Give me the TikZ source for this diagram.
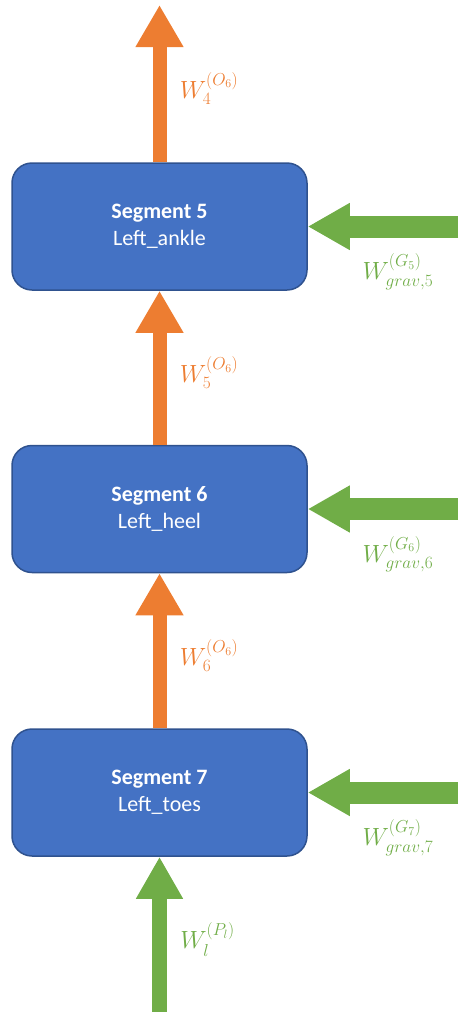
\documentclass[tikz,border=0pt]{standalone}
\usepackage{amsmath}
\usepackage{fontspec}
\setmainfont{Carlito}
\usepackage{tikz}
\usetikzlibrary{arrows.meta}

\definecolor{segblue}{HTML}{4472C4}
\definecolor{segborder}{HTML}{2F528F}
\definecolor{forceorange}{HTML}{ED7D31}
\definecolor{forcegreen}{HTML}{70AD47}

\begin{document}
\begin{tikzpicture}[x=1pt, y=-1pt,
		segment/.style={draw=segborder, line width=1.5pt, fill=segblue, rounded corners=20pt,
			minimum width=295pt, minimum height=127pt, text=white, align=center,
			font=\fontsize{22}{27}\selectfont},
		orangearrow/.style={draw=forceorange, line width=14pt, -{Triangle[length=42pt, width=45pt]}},
		greenarrow/.style={draw=forcegreen, line width=22pt, -{Triangle[length=42pt, width=44pt]}},
		orangelabel/.style={right, xshift=10pt, yshift=-5pt, text=forceorange, font=\fontsize{24}{28}\selectfont},
		greenlabel/.style={below=13pt, text=forcegreen, font=\fontsize{24}{28}\selectfont}]
		\useasboundingbox (0, 0) rectangle (458, 1012);

		% segments
		\node[segment] (s5) at (159.5, 226.5) {\textbf{Segment 5}\\Left\_ankle};
		\node[segment] (s6) at (159.5, 509) {\textbf{Segment 6}\\Left\_heel};
		\node[segment] (s7) at (159.5, 792.5) {\textbf{Segment 7}\\Left\_toes};

		% free ends
		\coordinate (top) at (159.5, 5);
		\coordinate (foot) at (159.5, 1012);
		\coordinate (g5) at (458, 226.5);
		\coordinate (g6) at (458, 509);
		\coordinate (g7) at (458, 792.5);

		% joint wrenches
		\draw[orangearrow] (s5.north) -- node[orangelabel] {$W_4^{(O_6)}$} (top);
		\draw[orangearrow] (s6.north) -- node[orangelabel] {$W_5^{(O_6)}$} (s5.south);
		\draw[orangearrow] (s7.north) -- node[orangelabel] {$W_6^{(O_6)}$} (s6.south);

		% gravity and ground
		\draw[greenarrow] (g5) -- node[pos=0.4, greenlabel] {$W_{grav,5}^{(G_5)}$} (s5.east);
		\draw[greenarrow] (g6) -- node[pos=0.4, greenlabel] {$W_{grav,6}^{(G_6)}$} (s6.east);
		\draw[greenarrow] (g7) -- node[pos=0.4, greenlabel] {$W_{grav,7}^{(G_7)}$} (s7.east);
		\draw[greenarrow, line width=15pt] (foot) -- node[orangelabel, text=forcegreen] {$W_l^{(P_l)}$} (s7.south);
	\end{tikzpicture}
\end{document}
